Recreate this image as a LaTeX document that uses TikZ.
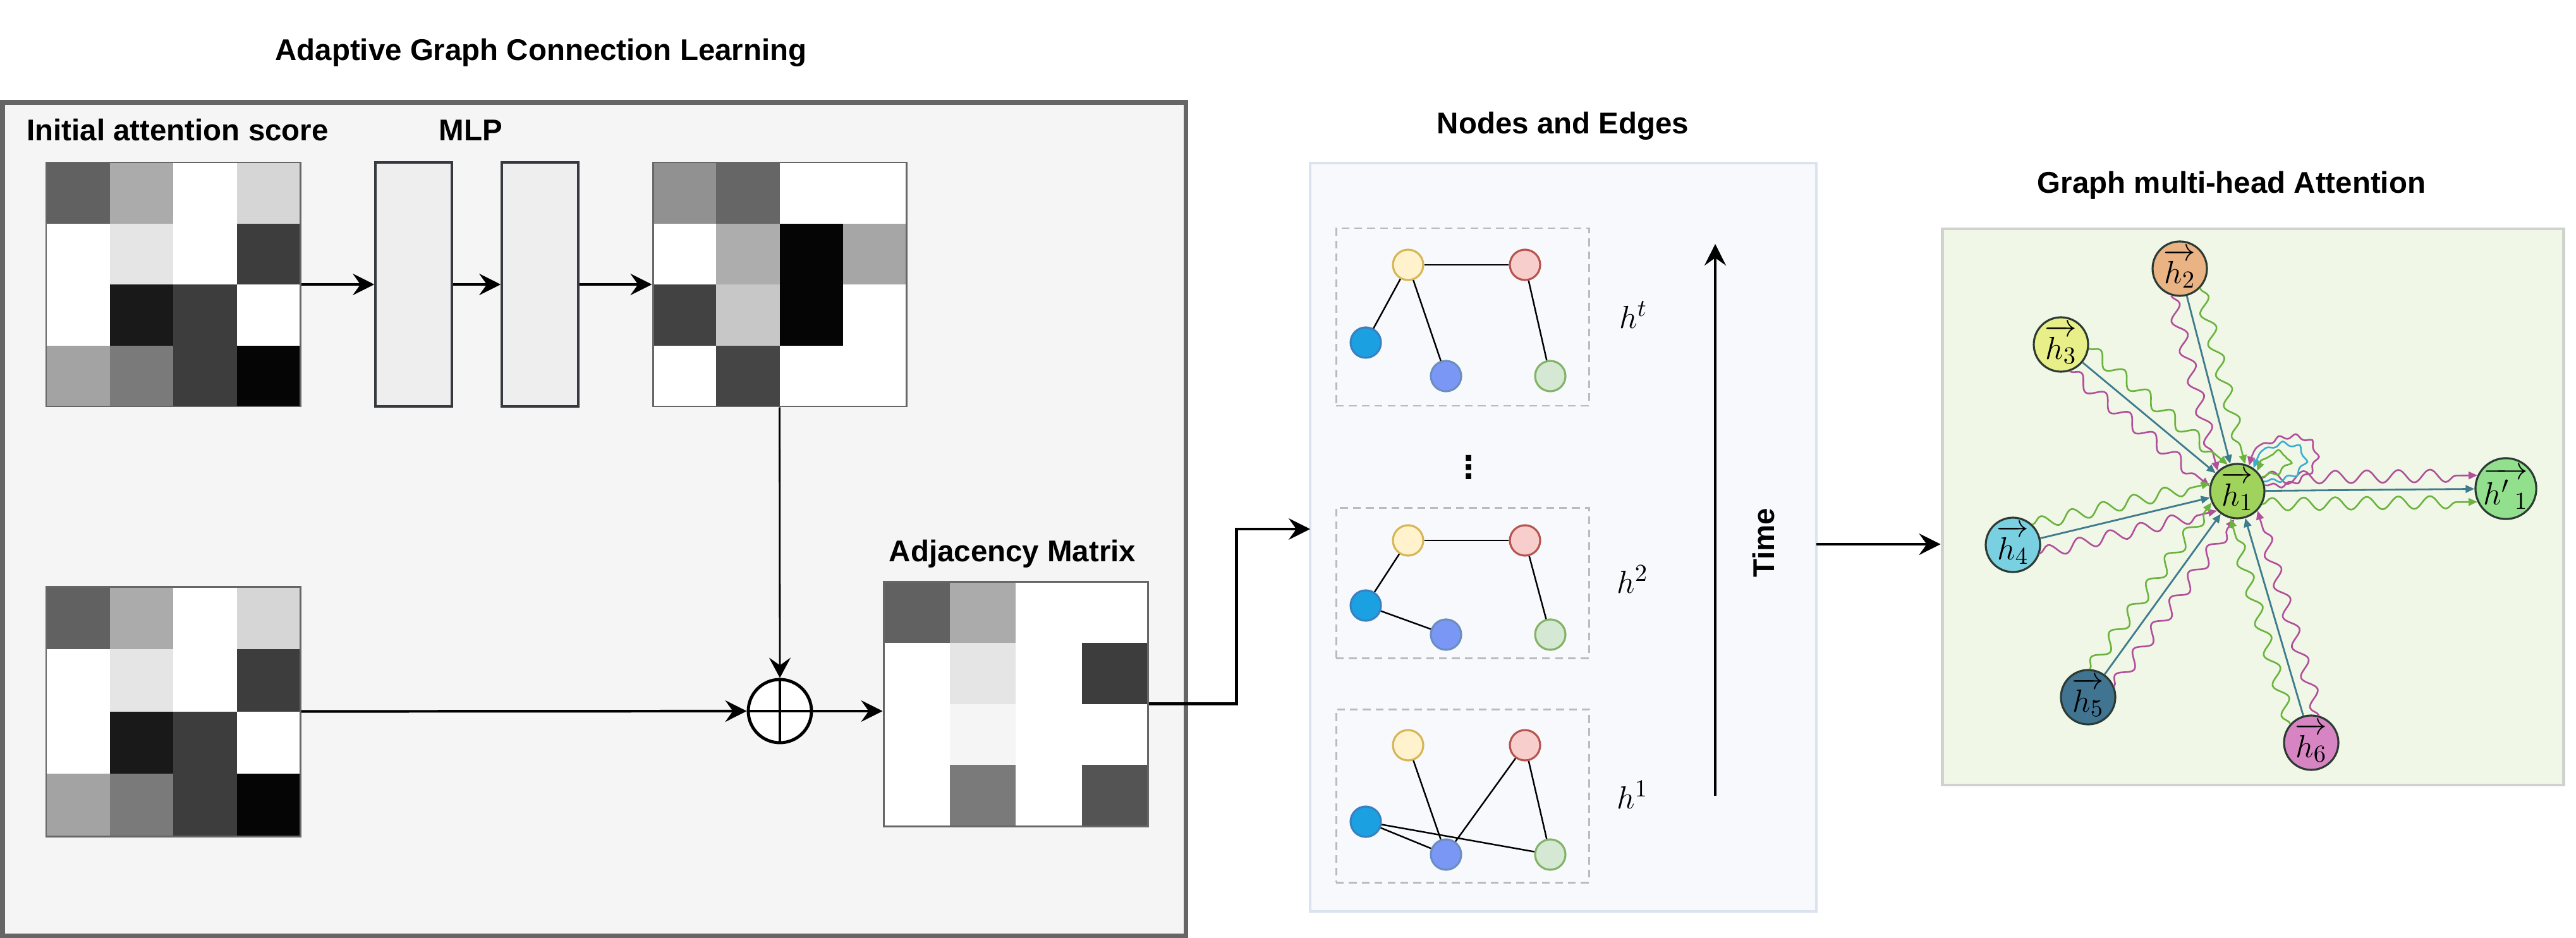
\documentclass[tikz,border=0pt]{standalone}
\usepackage{fontspec}
\setsansfont{Liberation Sans}
\newfontfamily\dejavu{DejaVu Sans}
\usepackage{amsmath,amssymb}
\usetikzlibrary{arrows.meta,decorations.pathmorphing}
\definecolor{panelgray}{HTML}{F5F5F5}
\definecolor{framegray}{HTML}{666666}
\definecolor{mlpfill}{HTML}{EEEEEE}
\definecolor{mlpline}{HTML}{36393D}
\definecolor{nodespanel}{HTML}{F7F9FC}
\definecolor{nodesframe}{HTML}{DAE3EF}
\definecolor{attnpanel}{HTML}{F1F7E7}
\definecolor{attnframe}{HTML}{D0D3CD}
\definecolor{dashgray}{HTML}{BBBBBB}
\definecolor{ylwfill}{HTML}{FFF2CC}
\definecolor{ylwline}{HTML}{D6B656}
\definecolor{redfill}{HTML}{F8CECC}
\definecolor{redline}{HTML}{B85450}
\definecolor{cyanfill}{HTML}{1BA1E2}
\definecolor{cyanline}{HTML}{3A80C0}
\definecolor{bluefill}{HTML}{7A97F6}
\definecolor{blueline}{HTML}{6C8EBF}
\definecolor{grnfill}{HTML}{D5E8D4}
\definecolor{grnline}{HTML}{82B366}
\definecolor{attnteal}{HTML}{3E7B8C}
\definecolor{wavegreen}{HTML}{6BB33F}
\definecolor{wavepurple}{HTML}{B24F9B}
\definecolor{wavecyan}{HTML}{3AAED0}
\definecolor{hline}{HTML}{2B3A33}
\definecolor{honefill}{HTML}{9FD35B}
\definecolor{htwofill}{HTML}{EAB384}
\definecolor{hthreefill}{HTML}{E8EF88}
\definecolor{hfourfill}{HTML}{79D0E1}
\definecolor{hfivefill}{HTML}{417490}
\definecolor{hsixfill}{HTML}{D784C2}
\definecolor{houtfill}{HTML}{92E08E}

% 4x4 grey map: x0, y0 (top left), cell width, cell height, white percentages
\newcommand{\heatmap}[5]{%
  \foreach \g [count=\k from 0] in {#5} {
    \pgfmathtruncatemacro\cc{mod(\k,4)}
    \pgfmathtruncatemacro\rr{div(\k,4)}
    \fill[white!\g!black] (#1+\cc*#3,#2+\rr*#4) rectangle ++(#3,#4);
  }}

\begin{document}
\begin{tikzpicture}[x=1cm, y=-1cm,
  ttl/.style={font=\fontsize{13.5}{16}\selectfont\sffamily\bfseries},
  arr/.style={line width=1.2pt, -{Stealth[length=3.4mm,width=3.4mm,inset=1.2mm]}},
  thinarr/.style={line width=0.8pt, -{Stealth[length=3.2mm,width=3.4mm,inset=1.2mm]}},
  mat/.style={draw=framegray, line width=0.85pt, inner sep=0pt},
  mlp/.style={draw=mlpline, fill=mlpfill, line width=1pt, minimum width=1.21cm, minimum height=3.86cm},
  dashbox/.style={draw=dashgray, line width=0.85pt, dash pattern=on 3.5pt off 2.3pt, minimum width=4cm},
  gnode/.style={circle, minimum size=0.48cm, inner sep=0pt, line width=0.9pt},
  gedge/.style={line width=0.7pt},
  hnode/.style={circle, draw=hline, line width=0.9pt, minimum size=0.86cm, inner sep=0pt, font=\fontsize{15.5}{15.5}\selectfont},
  tealarr/.style={attnteal, line width=0.8pt, -{Triangle[length=1.4mm,width=1.2mm]}},
  wave/.style={line width=0.75pt, -{Triangle[length=1.4mm,width=1.2mm]}, decorate,
    decoration={snake, amplitude=1mm, segment length=5mm, post length=1.5mm}},
  loopwave/.style={line width=0.75pt, -{Triangle[length=1.4mm,width=1.2mm]}, decorate,
    decoration={snake, amplitude=0.35mm, segment length=2.6mm, pre length=0.5mm, post length=1.2mm}}
 ]
\useasboundingbox (0,0) rectangle (40.76,14.84);

% adaptive graph connection learning
\node[ttl, anchor=base] (tAGCL) at (8.56,0.96) {Adaptive Graph Connection Learning};
\node[draw=framegray, fill=panelgray, line width=2pt, minimum width=18.72cm, minimum height=13.18cm] (panelA) at (9.40,8.21) {};
\node[ttl, anchor=base west] (tInit) at (0.30,2.23) {Initial attention score};
\node[ttl, anchor=base] (tMLP) at (7.45,2.23) {MLP};

\heatmap{0.73}{2.57}{1.005}{0.965}{38,67,100,84,100,90,100,24,100,10,24,100,64,48,24,2}
\node[mat, minimum width=4.02cm, minimum height=3.86cm] (inA) at (2.74,4.50) {};
\node[mlp] (mlpA) at (6.545,4.50) {};
\node[mlp] (mlpB) at (8.545,4.50) {};
\heatmap{10.33}{2.57}{1.0025}{0.965}{57,40,100,100,100,68,2,65,26,78,2,100,100,27,100,100}
\node[mat, minimum width=4.01cm, minimum height=3.86cm] (outB) at (12.335,4.50) {};

\heatmap{0.73}{9.28}{1.005}{0.9875}{38,67,100,84,100,90,100,24,100,10,24,100,64,48,24,2}
\node[mat, minimum width=4.02cm, minimum height=3.95cm] (inC) at (2.74,11.255) {};

\node[ttl, anchor=base] (tAdj) at (16.02,8.88) {Adjacency Matrix};
\heatmap{13.98}{9.20}{1.045}{0.9675}{38,67,100,100,100,90,100,24,100,96,100,100,100,48,100,33}
\node[mat, minimum width=4.18cm, minimum height=3.87cm] (adj) at (16.07,11.135) {};

\node[circle, draw, fill=white, line width=1.4pt, minimum size=1cm] (plus) at (12.34,11.25) {};
\draw[line width=1.4pt] (plus.north) -- (plus.south) (plus.west) -- (plus.east);

\draw[arr] (inA.east) -- (mlpA.west);
\draw[arr] (mlpA.east) -- (mlpB.west);
\draw[arr] (mlpB.east) -- (outB.west);
\draw[thinarr] (outB.south) -- (plus.north);
\draw[arr] (inC.east) -- (plus.west);
\draw[arr] (plus.east) -- (plus -| adj.west);

% nodes and edges
\node[ttl, anchor=base] (tNodes) at (24.73,2.12) {Nodes and Edges};
\node[draw=nodesframe, fill=nodespanel, line width=0.9pt, minimum width=8.01cm, minimum height=11.84cm] (panelN) at (24.735,8.50) {};
\coordinate (nin) at (20.73,8.37);
\draw[arr] (adj.east) -- ++(1.39,0) |- (nin);

\node[dashbox, minimum height=2.81cm] (frT) at (23.14,5.015) {};
\node[dashbox, minimum height=2.38cm] (fr2) at (23.14,9.22) {};
\node[dashbox, minimum height=2.74cm] (fr1) at (23.14,12.59) {};

\foreach \s/\y/\cy/\by in {T/4.19/5.42/5.95, 2/8.55/9.58/10.04, 1/11.79/13.00/13.52} {
  \node[gnode, fill=ylwfill, draw=ylwline] (y\s) at (22.28,\y) {};
  \node[gnode, fill=redfill, draw=redline] (r\s) at (24.13,\y) {};
  \node[gnode, fill=cyanfill, draw=cyanline] (c\s) at (21.61,\cy) {};
  \node[gnode, fill=bluefill, draw=blueline] (b\s) at (22.88,\by) {};
  \node[gnode, fill=grnfill, draw=grnline] (g\s) at (24.53,\by) {};
}
\foreach \a/\b in {yT/rT, yT/cT, yT/bT, rT/gT, y2/r2, y2/c2, c2/b2, r2/g2, y1/b1, r1/b1, r1/g1, c1/b1, c1/g1}
  \draw[gedge] (\a) -- (\b);

\node[anchor=base west, font=\fontsize{15}{15}\selectfont] (lT) at (25.50,5.19) {$h^t$};
\node[anchor=base west, font=\fontsize{15}{15}\selectfont] (l2) at (25.46,9.38) {$h^2$};
\node[anchor=base west, font=\fontsize{15}{15}\selectfont] (l1) at (25.46,12.79) {$h^1$};
\node[font=\fontsize{14}{14}\selectfont\dejavu\bfseries] (dots) at (23.24,7.39) {⋮};

\coordinate (tb) at (27.14,12.59);
\coordinate (tt) at (27.14,3.86);
\draw[arr] (tb) -- (tt);
\node[ttl, rotate=90, anchor=base] (tTime) at (28.07,8.59) {Time};

% graph multi-head attention
\node[ttl, anchor=base] (tGMA) at (35.31,3.06) {Graph multi-head Attention};
\node[draw=attnframe, fill=attnpanel, line width=1.4pt, minimum width=9.83cm, minimum height=8.80cm] (panelG) at (35.645,8.02) {};
\coordinate (nout) at (28.74,8.61);
\draw[arr] (nout) -- (nout -| panelG.west);

\node[hnode, fill=honefill] (h1) at (35.40,7.77) {$\overrightarrow{h_1}$};
\node[hnode, fill=htwofill] (h2) at (34.49,4.25) {$\overrightarrow{h_2}$};
\node[hnode, fill=hthreefill] (h3) at (32.61,5.45) {$\overrightarrow{h_3}$};
\node[hnode, fill=hfourfill] (h4) at (31.85,8.62) {$\overrightarrow{h_4}$};
\node[hnode, fill=hfivefill] (h5) at (33.04,11.03) {$\overrightarrow{h_5}$};
\node[hnode, fill=hsixfill] (h6) at (36.57,11.75) {$\overrightarrow{h_6}$};
\node[hnode, fill=houtfill] (hout) at (39.65,7.73) {$\overrightarrow{h'\,{}_1}$};

\foreach \n/\t in {2/104, 3/140, 4/194, 5/234, 6/286} {
  \pgfmathtruncatemacro\ga{\t+212}
  \pgfmathtruncatemacro\gb{\t-30}
  \pgfmathtruncatemacro\pa{\t+148}
  \pgfmathtruncatemacro\pb{\t+30}
  \draw[wave, wavegreen] (h\n.\ga) -- (h1.\gb);
  \draw[wave, wavepurple] (h\n.\pa) -- (h1.\pb);
  \draw[tealarr] (h\n) -- (h1);
}
\draw[wave, wavepurple] (h1.28) -- (hout.155);
\draw[wave, wavegreen] (h1.-28) -- (hout.-155);
\draw[tealarr] (h1) -- (hout);

% self loops
\draw[loopwave, wavepurple] (h1.12) .. controls (36.75,7.75) and (36.85,6.75) .. (36.05,6.92)
  .. controls (35.75,6.98) and (35.62,7.15) .. (h1.65);
\draw[loopwave, wavecyan] (h1.20) .. controls (36.6,7.6) and (36.55,6.95) .. (36.0,7.03)
  .. controls (35.82,7.06) and (35.74,7.18) .. (h1.55);
\draw[loopwave, wavegreen] (h1.30) .. controls (36.3,7.45) and (36.25,7.1) .. (35.9,7.18)
  .. controls (35.82,7.2) and (35.78,7.28) .. (h1.45);
\end{tikzpicture}
\end{document}
